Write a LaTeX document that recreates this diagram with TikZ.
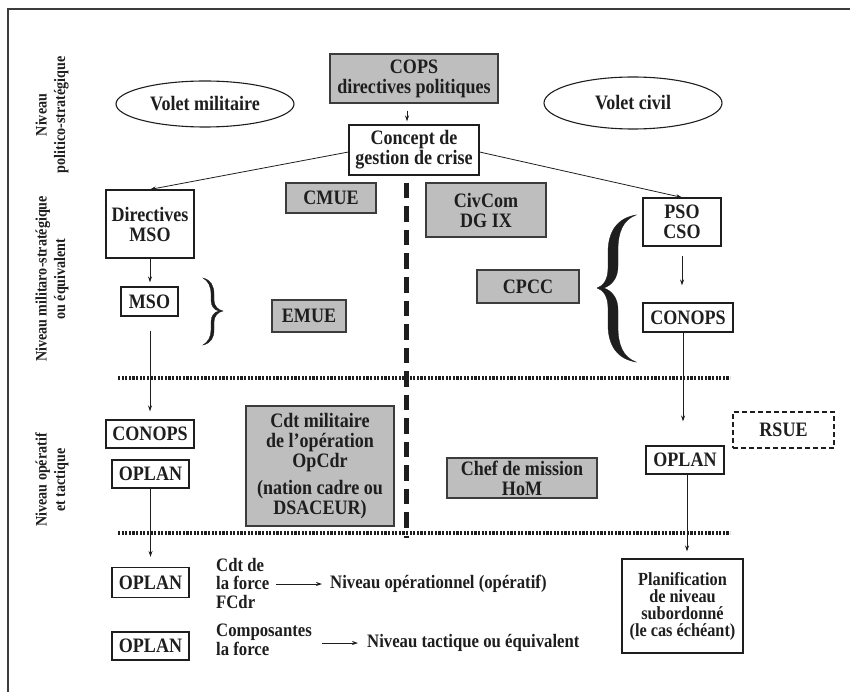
\documentclass[tikz,border=0pt]{standalone}
\usepackage{fontspec}
\setmainfont{Liberation Serif}[FakeStretch=0.88]
\usetikzlibrary{arrows.meta,shapes.geometric,calc}
\definecolor{boxgray}{HTML}{BEBEBE}
\definecolor{ink}{HTML}{1E1E1E}
\definecolor{gline}{HTML}{3C3C3C}
\newcommand{\fmain}{\fontsize{20.5}{20}\selectfont}
\newcommand{\fsmall}{\fontsize{18.5}{17}\selectfont}
\newcommand{\flevel}{\fontsize{16}{18.5}\selectfont}
\begin{document}
\begin{tikzpicture}[x=1pt,y=-1pt,
  every node/.style={font=\bfseries\fmain, text=ink, inner sep=0pt, align=center},
  wbox/.style={draw=ink, line width=1.1pt, fill=white},
  gbox/.style={draw=gline, line width=1.2pt, fill=boxgray},
  dbox/.style={draw=ink, line width=1.2pt, dash pattern=on 5pt off 3pt},
  oval/.style={draw=ink, line width=1.1pt, ellipse},
  lvl/.style={rotate=90, font=\bfseries\flevel},
  arr/.style={draw=ink, line width=0.8pt, -{Stealth[length=6pt,width=4pt]}},
  dotline/.style={draw=ink, line width=3.5pt, dash pattern=on 2.2pt off 1.4pt},
  vdash/.style={draw=ink, line width=5pt, dash pattern=on 15.5pt off 8pt},
  framec/.style={draw=gline, line width=1.4pt},
  bracef/.style={fill=ink, draw=ink, line width=0.3pt}
]
\useasboundingbox (0,0) rectangle (850,692);

% frame
\coordinate (fbl) at (8,692);
\coordinate (ftl) at (8,9);
\coordinate (ftr) at (850,9);
\draw[framec] (fbl) -- (ftl) -- (ftr);

% level labels
\node[lvl] (lv1) at (52,115) {Niveau\\politico-stratégique};
\node[lvl] (lv2) at (52,279) {Niveau militaro-stratégique\\ou équivalent};
\node[lvl] (lv3) at (52,480) {Niveau opératif\\et tactique};

% separators
\coordinate (h1a) at (118,378);
\coordinate (h1b) at (730,378);
\coordinate (h2a) at (118,533);
\coordinate (h2b) at (730,533);
\coordinate (va) at (406,183);
\coordinate (vb) at (406,538);
\draw[dotline] (h1a) -- (h1b);
\draw[dotline] (h2a) -- (h2b);
\draw[vdash] (va) -- (vb);

% top
\node[gbox, minimum width=168, minimum height=49] (cops) at (414,78.5) {COPS\\directives politiques};
\node[wbox, minimum width=130, minimum height=50] (concept) at (414,150) {Concept de\\gestion de crise};
\node[oval, minimum width=178, minimum height=46] (volmil) at (205,104) {Volet militaire};
\node[oval, minimum width=178, minimum height=52] (volciv) at (633,103) {Volet civil};

% left column
\node[wbox, minimum width=88, minimum height=68] (dirmso) at (150,224) {Directives\\MSO};
\node[wbox, minimum width=57, minimum height=29] (mso) at (149.5,301.5) {MSO};
\node[wbox, minimum width=88, minimum height=28] (conopsL) at (150,434) {CONOPS};
\node[wbox, minimum width=77, minimum height=28] (oplanA) at (150.5,474) {OPLAN};
\node[wbox, minimum width=77, minimum height=30] (oplanB) at (150.5,582.5) {OPLAN};
\node[wbox, minimum width=77, minimum height=28] (oplanC) at (150.5,646) {OPLAN};

% gray boxes
\node[gbox, minimum width=90, minimum height=30] (cmue) at (331,198) {CMUE};
\node[gbox, minimum width=120, minimum height=54] (civcom) at (486,210) {CivCom\\DG IX};
\node[gbox, minimum width=74, minimum height=32] (emue) at (309,316) {EMUE};
\node[gbox, minimum width=102, minimum height=33] (cpcc) at (528,286.5) {CPCC};
\node[gbox, minimum width=148, minimum height=120] (cdtmil) at (320,466) {Cdt militaire\\de l’opération\\OpCdr\\[7pt](nation cadre ou\\DSACEUR)};
\node[gbox, minimum width=150, minimum height=40] (chef) at (522,478) {Chef de mission\\HoM};

% right column
\node[wbox, minimum width=78, minimum height=48] (pso) at (682,222) {PSO\\CSO};
\node[wbox, minimum width=90, minimum height=29] (conopsR) at (688,317.5) {CONOPS};
\node[wbox, minimum width=78, minimum height=28] (oplanR) at (685,460) {OPLAN};
\node[wbox, minimum width=121, minimum height=94, font=\bfseries\fsmall] (plan) at (682.5,606) {Planification\\de niveau\\subordonné\\(le cas échéant)};
\node[dbox, minimum width=101, minimum height=36] (rsue) at (783.5,430) {RSUE};

% bottom texts
\node[anchor=west, align=left, font=\bfseries\fontsize{19}{18.5}\selectfont] (fcdr) at (216,583) {Cdt de\\la force\\FCdr};
\node[anchor=west, font=\bfseries\fontsize{19}{18.5}\selectfont] (nivop) at (330,584) {Niveau opérationnel (opératif)};
\node[anchor=west, align=left, font=\bfseries\fontsize{19}{17}\selectfont] (compo) at (216,640) {Composantes\\la force};
\node[anchor=west, font=\bfseries\fontsize{19}{18.5}\selectfont] (nivtac) at (367,643) {Niveau tactique ou équivalent};

% arrows
\draw[arr] ($(cops.south)+(-7,7)$) -- ($(concept.north)+(-7,-3)$);
\draw[arr] ($(concept.west)+(0,2)$) -- (dirmso.north);
\draw[arr] ($(concept.east)+(0,2)$) -- (pso.north);
\draw[arr] (dirmso.south) -- ($(mso.north)+(0.5,-4)$);
\draw[arr] ($(mso.south)+(0.5,14)$) -- ($(conopsL.north)+(0,-8)$);
\draw[arr] (oplanA.south) -- ($(oplanB.north)+(0,-10)$);
\draw[arr] ($(pso.south)+(0,9)$) -- ($(conopsR.north)+(-6,-17)$);
\draw[arr] ($(conopsR.south)+(-5,0)$) -- ($(oplanR.north)+(-2,-24)$);
\draw[arr] ($(oplanR.south)+(2,0)$) -- ($(plan.north)+(4.5,-7)$);
\draw[arr] ($(fcdr.east)+(7,1)$) -- ($(nivop.west)+(-8,0)$);
\draw[arr] ($(compo.east)+(10,3)$) -- ($(nivtac.west)+(-9,0)$);

% big left brace (civil side)
\path[bracef] (636,215) .. controls (617,218) and (608,232) .. (608,252) -- (608,268)
  .. controls (608,280) and (603,286) .. (597,288)
  .. controls (603,290) and (608,296) .. (608,308) -- (608,325)
  .. controls (608,345) and (617,359) .. (636,362)
  .. controls (623,357) and (618,345) .. (618,327) -- (618,310)
  .. controls (618,298) and (612,291) .. (604,288)
  .. controls (612,285) and (618,278) .. (618,266) -- (618,250)
  .. controls (618,232) and (623,220) .. (636,215) -- cycle;

% small right brace (military side)
\path[bracef] (203,278) .. controls (211,280) and (214,286) .. (214,294) -- (214,300)
  .. controls (214,306) and (218,310) .. (223,311)
  .. controls (218,312) and (214,316) .. (214,322) -- (214,330)
  .. controls (214,338) and (211,343) .. (203,345)
  .. controls (208,342) and (211,337) .. (211,330) -- (211,322)
  .. controls (211,316) and (214,312) .. (219,311)
  .. controls (214,310) and (211,306) .. (211,300) -- (211,294)
  .. controls (211,286) and (208,281) .. (203,278) -- cycle;
\end{tikzpicture}
\end{document}
